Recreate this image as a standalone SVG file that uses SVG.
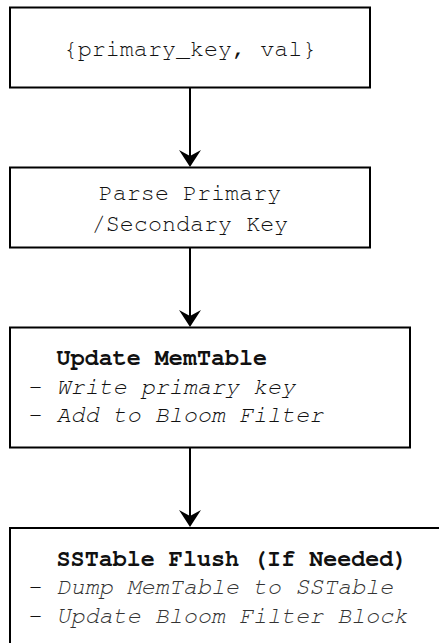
<svg xmlns="http://www.w3.org/2000/svg" width="439" height="643" viewBox="0 0 439 643">
  <style>
    .box { fill: #fff; stroke: #000; stroke-width: 2; }
    .t { font-family: "Nimbus Mono PS", "Nimbus Mono L", "FreeMono", "Courier", "Liberation Mono", monospace; font-size: 23.4px; fill: #111; }
    .c { text-anchor: middle; }
    .b { font-weight: bold; fill: #111; }
    .i { font-style: italic; }
    .g { fill: #333; }
    .edge { stroke: #000; stroke-width: 2; fill: none; }
    .head { fill: #000; }
  </style>
  <rect width="439" height="643" fill="#fff"/>
  <g id="connectors">
    <line class="edge" x1="190" y1="87" x2="190" y2="160"/>
    <path class="head" d="M179,150 L190,167 L201,150 L190,156 Z"/>
    <line class="edge" x1="190" y1="247" x2="190" y2="320"/>
    <path class="head" d="M179,310 L190,327 L201,310 L190,316 Z"/>
    <line class="edge" x1="190" y1="447" x2="190" y2="520"/>
    <path class="head" d="M179,510 L190,527 L201,510 L190,516 Z"/>
  </g>
  <g id="node1">
    <rect class="box" x="10" y="7.5" width="360" height="80"/>
    <text class="t c" x="190" y="56" xml:space="preserve">{primary_key, val}</text>
  </g>
  <g id="node2">
    <rect class="box" x="10" y="167.5" width="360" height="80"/>
    <text class="t c" x="190" y="199.5">Parse Primary</text>
    <text class="t c" x="190" y="231">/Secondary Key</text>
  </g>
  <g id="node3">
    <rect class="box" x="10" y="327.5" width="400" height="120"/>
    <text class="t" x="28.5" y="365" xml:space="preserve">  <tspan class="b">Update MemTable</tspan></text>
    <text class="t" x="28.5" y="393.5" xml:space="preserve">- <tspan class="i">Write primary key</tspan></text>
    <text class="t" x="28.5" y="422" xml:space="preserve">- <tspan class="i">Add to Bloom Filter</tspan></text>
  </g>
  <g id="node4">
    <rect class="box" x="10" y="528" width="440" height="130"/>
    <text class="t" x="28.5" y="566" xml:space="preserve">  <tspan class="b">SSTable Flush (If Needed)</tspan></text>
    <text class="t" x="28.5" y="594" xml:space="preserve">- <tspan class="i g">Dump MemTable to SSTable</tspan></text>
    <text class="t" x="28.5" y="622.5" xml:space="preserve">- <tspan class="i g">Update Bloom Filter Block</tspan></text>
  </g>
</svg>
